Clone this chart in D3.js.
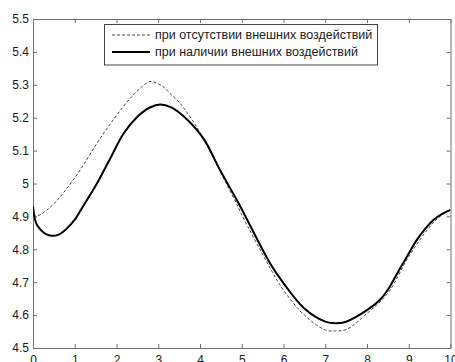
<!DOCTYPE html>
<html>
<head>
<meta charset="utf-8">
<script src="https://cdn.jsdelivr.net/npm/d3@7"></script>
<style>
  html, body { margin: 0; padding: 0; background: #fff; }
  svg { display: block; }
  text { font-family: "Liberation Sans", Arial, sans-serif; fill: #1a1a1a; }
</style>
</head>
<body>
<svg id="chart" width="455" height="362"></svg>
<script>
// Time samples and the two responses
const tFree = [0, 0.17, 0.33, 0.55, 0.8, 1.13, 1.53, 1.93, 2.33, 2.6, 2.8, 3.0, 3.15, 3.28, 3.52, 3.76, 4.0, 4.45, 4.88, 5.0, 5.68, 6.0, 6.5, 7.0, 7.25, 7.5, 8.0, 8.5, 9.0, 9.5, 9.75, 10];
const yFree = [4.9, 4.905, 4.919, 4.945, 4.983, 5.041, 5.122, 5.195, 5.259, 5.293, 5.31, 5.303, 5.291, 5.274, 5.244, 5.203, 5.155, 5.045, 4.937, 4.905, 4.743, 4.676, 4.6, 4.555, 4.552, 4.556, 4.605, 4.667, 4.778, 4.868, 4.9, 4.92];

const tForced = [0, 0.05, 0.1, 0.2, 0.3, 0.45, 0.6, 0.8, 1.0, 1.2, 1.5, 1.85, 2.17, 2.5, 2.8, 3.05, 3.3, 3.6, 4.08, 4.48, 4.88, 5.0, 5.68, 6.0, 6.5, 7.0, 7.25, 7.5, 8.0, 8.3, 8.5, 8.79, 9.0, 9.19, 9.59, 9.8, 10];
const yForced = [4.93, 4.89, 4.873, 4.857, 4.847, 4.841, 4.844, 4.862, 4.89, 4.931, 4.993, 5.076, 5.152, 5.203, 5.231, 5.24, 5.232, 5.205, 5.137, 5.041, 4.95, 4.922, 4.757, 4.697, 4.62, 4.58, 4.575, 4.58, 4.615, 4.645, 4.677, 4.742, 4.787, 4.828, 4.889, 4.908, 4.92];

const xTickValues = [0, 1, 2, 3, 4, 5, 6, 7, 8, 9, 10];
const yTickValues = [4.5, 4.6, 4.7, 4.8, 4.9, 5.0, 5.1, 5.2, 5.3, 5.4, 5.5];
const yTickLabels = ["4.5", "4.6", "4.7", "4.8", "4.9", "5", "5.1", "5.2", "5.3", "5.4", "5.5"];

const legendLabels = ["при отсутствии внешних воздействий", "при наличии внешних воздействий"];

const svg = d3.select("#chart");
const plotLeft = 33, plotRight = 450.5, plotTop = 19, plotBottom = 348;

const x = d3.scaleLinear().domain([0, 10]).range([plotLeft, plotRight]);
const y = d3.scaleLinear().domain([4.5, 5.5]).range([plotBottom, plotTop]);

const axisColor = "#707070";

function styleAxis(g) {
  g.selectAll(".domain").attr("stroke", axisColor).attr("stroke-width", 1);
  g.selectAll(".tick line").attr("stroke", axisColor);
  g.selectAll(".tick text")
    .attr("fill", "#1a1a1a")
    .style("font-family", "'Liberation Sans', Arial, sans-serif")
    .style("font-size", "12px");
}

// Bottom axis with labels
svg.append("g")
  .attr("transform", `translate(0,${plotBottom})`)
  .call(d3.axisBottom(x).tickValues(xTickValues).tickFormat(d3.format("d"))
    .tickSizeInner(-4).tickSizeOuter(0).tickPadding(7))
  .call(styleAxis);

// Top axis, ticks only
svg.append("g")
  .attr("transform", `translate(0,${plotTop})`)
  .call(d3.axisTop(x).tickValues(xTickValues).tickFormat("")
    .tickSizeInner(-4).tickSizeOuter(0))
  .call(styleAxis);

// Left axis with labels
svg.append("g")
  .attr("transform", `translate(${plotLeft},0)`)
  .call(d3.axisLeft(y).tickValues(yTickValues)
    .tickFormat((d, i) => yTickLabels[i])
    .tickSizeInner(-4).tickSizeOuter(0).tickPadding(4))
  .call(styleAxis);

// Right axis, ticks only
svg.append("g")
  .attr("transform", `translate(${plotRight},0)`)
  .call(d3.axisRight(y).tickValues(yTickValues).tickFormat("")
    .tickSizeInner(-4).tickSizeOuter(0))
  .call(styleAxis);

svg.append("clipPath").attr("id", "plotClip")
  .append("rect").attr("x", plotLeft).attr("y", plotTop)
  .attr("width", plotRight - plotLeft).attr("height", plotBottom - plotTop);

const line = d3.line()
  .x(d => x(d[0]))
  .y(d => y(d[1]))
  .curve(d3.curveCatmullRom.alpha(0.5));

const plot = svg.append("g").attr("clip-path", "url(#plotClip)");

plot.append("path")
  .datum(d3.zip(tFree, yFree))
  .attr("d", line)
  .attr("fill", "none")
  .attr("stroke", "#444")
  .attr("stroke-width", 1)
  .attr("stroke-dasharray", "3,2");

plot.append("path")
  .datum(d3.zip(tForced, yForced))
  .attr("d", line)
  .attr("fill", "none")
  .attr("stroke", "#000")
  .attr("stroke-width", 2);

// Legend
const lg = svg.append("g");
lg.append("rect")
  .attr("x", 104.5).attr("y", 24.5)
  .attr("width", 273).attr("height", 40.5)
  .attr("fill", "#fff").attr("stroke", "#444").attr("stroke-width", 1);

const rows = [
  { label: legendLabels[0], dash: "3,2", width: 1, color: "#444", cy: 35 },
  { label: legendLabels[1], dash: null, width: 2, color: "#000", cy: 52 }
];
rows.forEach(r => {
  lg.append("line")
    .attr("x1", 112).attr("x2", 150)
    .attr("y1", r.cy).attr("y2", r.cy)
    .attr("stroke", r.color).attr("stroke-width", r.width)
    .attr("stroke-dasharray", r.dash);
  lg.append("text")
    .attr("x", 155).attr("y", r.cy)
    .attr("dy", "0.35em")
    .style("font-size", "12.5px")
    .text(r.label);
});
</script>
</body>
</html>
